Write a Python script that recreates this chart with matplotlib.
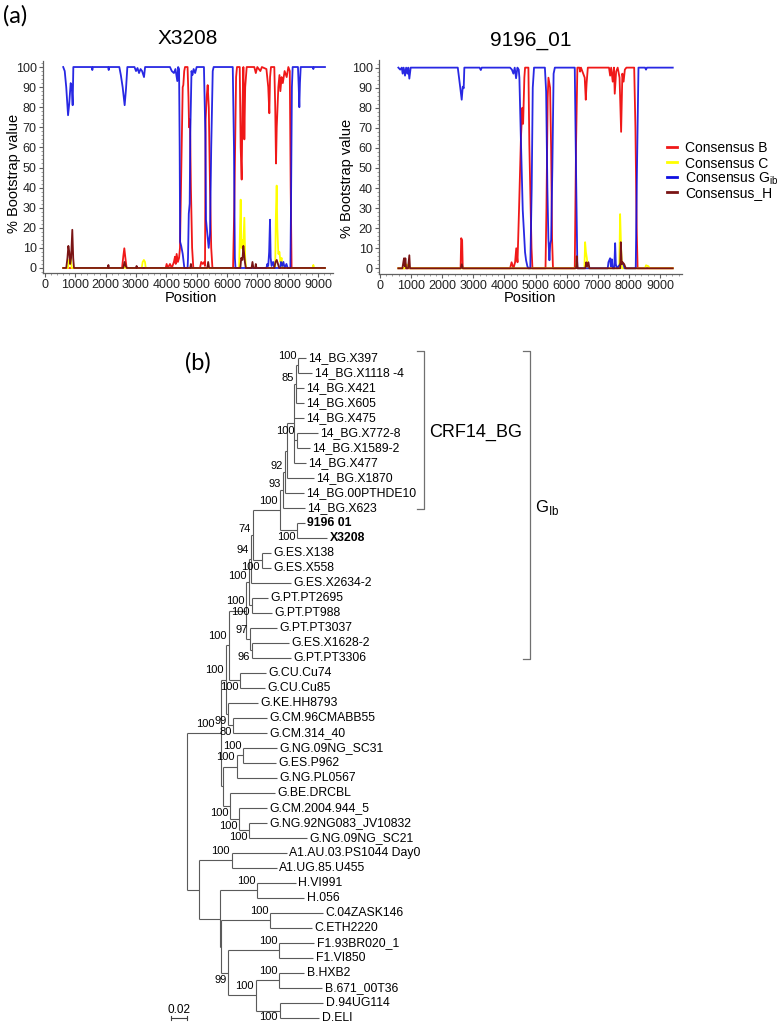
import matplotlib
matplotlib.use('Agg')
import matplotlib.pyplot as plt
from matplotlib.ticker import MultipleLocator

plt.rcParams['font.family'] = ['Liberation Sans', 'DejaVu Sans']

# ---------------- (a) bootscan values: (position, % bootstrap) ----------------
x3208_b = [(600, 0), (2540, 0), (2583, 6), (2615, 9.8), (2650, 5), (2690, 0), (3980, 0), (4010, 2), (4050, 0),
           (4121, 2), (4180, 0), (4250, 3), (4286, 5.6), (4310, 2), (4340, 7), (4380, 3), (4420, 5), (4450, 10),
           (4500, 55), (4540, 90), (4560, 91), (4590, 98), (4616, 100), (4700, 100), (4730, 85), (4750, 70),
           (4780, 74), (4810, 40), (4850, 10), (4890, 0), (5110, 0), (5150, 3), (5200, 2), (5250, 3), (5275, 1),
           (5297, 74), (5330, 85), (5363, 91), (5400, 80), (5440, 40), (5480, 10), (5520, 0), (6200, 0),
           (6240, 30), (6300, 95), (6330, 100), (6420, 100), (6451, 60), (6484, 44), (6510, 80), (6540, 100),
           (6560, 80), (6572, 64), (6600, 90), (6650, 100), (6900, 100), (6950, 97), (7000, 100), (7100, 98),
           (7150, 100), (7300, 99), (7360, 90), (7396, 77), (7420, 95), (7450, 100), (7560, 100), (7590, 80),
           (7616, 52), (7640, 70), (7693, 90), (7730, 96), (7760, 88), (7800, 95), (7840, 92), (7900, 98),
           (7968, 95), (8023, 100), (8070, 98), (8100, 40), (8130, 0), (9230, 0)]
x3208_c = [(600, 0), (760, 0), (790, 4), (820, 2), (850, 5), (880, 0), (2600, 0), (2630, 2), (2660, 0),
           (3190, 0), (3220, 3), (3260, 4), (3297, 3), (3320, 0), (6400, 0), (6430, 20), (6451, 34), (6475, 10),
           (6500, 14), (6530, 8), (6572, 25), (6600, 5), (6630, 0), (7590, 0), (7610, 25), (7638, 41), (7660, 20),
           (7693, 7), (7730, 8), (7760, 3), (7800, 5), (7830, 0), (8820, 0), (8847, 1.5), (8870, 0), (9230, 0)]
x3208_g = [(600, 100), (650, 98), (700, 90), (760, 76), (800, 82), (846, 92), (880, 91), (912, 81), (934, 100),
           (1540, 100), (1560, 98.5), (1580, 100), (2080, 100), (2100, 98.5), (2120, 100), (2450, 100),
           (2500, 96), (2560, 90), (2626, 81), (2670, 89), (2715, 100), (2950, 100), (3000, 98), (3050, 99.5),
           (3100, 97), (3150, 99), (3200, 98), (3264, 95), (3300, 100), (4120, 100), (4180, 98), (4250, 97),
           (4300, 99), (4362, 93), (4390, 100), (4420, 99), (4440, 60), (4455, 13), (4490, 11), (4540, 7),
           (4594, 0), (4700, 0), (4715, 5), (4740, 27), (4770, 32), (4790, 67), (4830, 98), (4860, 96),
           (4900, 99), (4950, 97), (5000, 100), (5240, 100), (5286, 67), (5308, 24), (5352, 17), (5396, 10),
           (5440, 17), (5480, 60), (5530, 98), (5560, 100), (6190, 100), (6230, 60), (6260, 5), (6280, 0),
           (7300, 0), (7330, 2), (7360, 1), (7390, 8), (7418, 24), (7440, 5), (7470, 1), (7520, 3), (7560, 0),
           (7750, 0), (7780, 3), (7820, 1), (7860, 3), (7900, 0), (7960, 2), (8000, 0), (8090, 0), (8110, 30),
           (8140, 90), (8165, 100), (8340, 100), (8365, 90), (8385, 80), (8405, 92), (8430, 100), (8830, 100),
           (8847, 99), (8865, 100), (9230, 100)]
x3208_h = [(600, 0), (700, 0), (740, 5), (770, 11), (800, 8), (830, 2), (860, 5), (900, 19), (930, 5), (956, 0),
           (2070, 0), (2090, 1.5), (2110, 0), (2580, 0), (2620, 3), (2660, 1), (2700, 0), (3000, 0), (3020, 1),
           (3040, 0), (4790, 0), (4810, 2), (4830, 0), (5350, 0), (5380, 3), (5410, 0), (6440, 0), (6470, 5),
           (6510, 4), (6539, 11), (6560, 8), (6590, 3), (6620, 0), (6810, 0), (6840, 3), (6870, 0), (6930, 0),
           (6950, 2), (6970, 0), (7560, 0), (7600, 3), (7640, 4), (7680, 2), (7720, 0), (9230, 0)]

s9196_b = [(590, 0), (2590, 0), (2610, 15), (2640, 14), (2660, 0), (4181, 0), (4230, 3), (4290, 0), (4342, 3),
           (4380, 10), (4420, 3), (4470, 30), (4530, 65), (4577, 80), (4600, 72), (4640, 95), (4663, 100),
           (4770, 100), (4800, 62), (4830, 39), (4870, 10), (4900, 0), (5320, 0), (5350, 30), (5390, 85),
           (5414, 95), (5467, 90), (5500, 60), (5530, 15), (5560, 0), (6260, 0), (6300, 60), (6344, 100),
           (6410, 100), (6432, 98), (6460, 100), (6580, 95), (6614, 84), (6640, 92), (6680, 100), (7360, 100),
           (7397, 96), (7430, 100), (7480, 93), (7520, 100), (7545, 87), (7590, 98), (7640, 100), (7700, 95),
           (7750, 68), (7790, 97), (7830, 93), (7870, 99), (7920, 100), (8170, 100), (8210, 70), (8250, 20),
           (8280, 0), (9410, 0)]
s9196_c = [(590, 0), (800, 0), (830, 2), (870, 1), (920, 2), (950, 0), (6290, 0), (6320, 3), (6350, 0),
           (6570, 0), (6593, 13), (6620, 8), (6650, 5), (6680, 0), (7690, 0), (7718, 27), (7750, 10), (7780, 0),
           (8520, 0), (8550, 1.5), (8630, 1), (8660, 0), (9410, 0)]
s9196_g = [(590, 100), (650, 99), (700, 100), (728, 97), (760, 100), (804, 96), (840, 100), (879, 97), (910, 100),
           (943, 94.5), (986, 100), (2500, 100), (2540, 95), (2580, 90), (2626, 84), (2660, 90.5), (2690, 89.7),
           (2711, 100), (3200, 100), (3240, 98.8), (3270, 100), (4181, 100), (4240, 99), (4288, 97), (4330, 100),
           (4374, 94.7), (4417, 100), (4460, 99), (4480, 95), (4524, 67), (4588, 29), (4631, 17), (4662, 8),
           (4695, 4), (4737, 1), (4770, 0), (4830, 0), (4876, 40), (4910, 90), (4951, 100), (5300, 100),
           (5340, 88), (5380, 40), (5412, 15), (5446, 4), (5470, 12), (5500, 14), (5540, 50), (5580, 97),
           (5620, 100), (6260, 100), (6300, 50), (6344, 0), (7320, 0), (7343, 3), (7396, 5), (7420, 1),
           (7450, 4.5), (7480, 0), (7530, 0), (7558, 12.5), (7580, 2), (7620, 0), (7718, 2), (7760, 3),
           (7826, 2), (7860, 0), (8220, 0), (8260, 50), (8308, 100), (8520, 100), (8550, 99), (8580, 100),
           (9410, 100)]
s9196_h = [(590, 0), (720, 0), (750, 3), (772, 5), (795, 1), (815, 5), (840, 0), (900, 0), (943, 6.5), (965, 0),
           (2600, 0), (2630, 2), (2660, 0), (6300, 0), (6325, 6), (6350, 0), (6600, 0), (6630, 3), (6660, 1),
           (6700, 3), (6730, 0), (7720, 0), (7740, 13), (7770, 2), (7800, 3), (7850, 2), (7900, 0), (9410, 0)]

series_names = ['Consensus B', 'Consensus C', 'Consensus G$_{\\mathregular{ib}}$', 'Consensus_H']
series_colors = ['#f01818', '#ffff00', '#1010e0', '#7a1414']

# ---------------- (b) neighbour-joining tree (newick pieces, bootstrap as node labels) ----------------
crf14_newick = ("((((((14_BG.X397:0.0090,14_BG.X1118 -4:0.0171)100:0.0029,14_BG.X421:0.0100,"
                "14_BG.X605:0.0094)85:0.0021,14_BG.X475:0.0115,(14_BG.X772-8:0.0266,14_BG.X1589-2:0.0166)100:0.0030,"
                "14_BG.X477:0.0146):0.0088,14_BG.X1870:0.0334):0.0035,14_BG.00PTHDE10:0.0244)92:0.0025,"
                "14_BG.X623:0.0275)93:0.0031")
gib_newick = ("((((((" + crf14_newick + ",(9196 01:0.0096,X3208:0.0371)100:0.0216)100:0.0341,"
              "(G.ES.X138:0.0116,G.ES.X558:0.0116)100:0.0113)74:0.0021,G.ES.X2634-2:0.0494)94:0.0031,"
              "(G.PT.PT2695:0.0204,G.PT.PT988:0.0254)100:0.0040)100:0.0031,"
              "(G.PT.PT3037:0.0344,(G.ES.X1628-2:0.0469,G.PT.PT3306:0.0488)96:0.0025)97:0.0044)100:0.0213")
g_other_newick = ("(G.CU.Cu74:0.0319,G.CU.Cu85:0.0306)100:0.0138)100:0.0044,"
                  "(G.KE.HH8793:0.0371,(G.CM.96CMABB55:0.0421,G.CM.314_40:0.0415)80:0.0063)99:0.0035)100:0.0060,"
                  "(((G.NG.09NG_SC31:0.0415,G.ES.P962:0.0409)100:0.0083,G.NG.PL0567:0.0504)100:0.0168,"
                  "(G.BE.DRCBL:0.0556,(G.CM.2004.944_5:0.0346,(G.NG.92NG083_JV10832:0.0221,"
                  "G.NG.09NG_SC21:0.0721)100:0.0125)100:0.0116)100:0.0084):0.0033)100:0.0418")
outgroup_newick = ("((A1.AU.03.PS1044 Day0:0.0685,A1.UG.85.U455:0.0560)100:0.0409,"
                   "((H.VI991:0.0478,H.056:0.0584)100:0.0466,((C.04ZASK146:0.0663,C.ETH2220:0.0525)100:0.0613,"
                   "((F1.93BR020_1:0.0434,F1.VI850:0.0421)100:0.0638,((B.HXB2:0.0309,B.671_00T36:0.0534)100:0.0291,"
                   "(D.94UG114:0.0538,D.ELI:0.0488)100:0.0300)100:0.0346)99:0.0091):0.0013):0.0263):0.0146")
tree_newick = "(((" + gib_newick + "," + g_other_newick + "," + outgroup_newick + ");"

bold_tips = ['9196 01', 'X3208']
# where MEGA printed a support value relative to its node, keyed by (first tip, last tip)
support_below = [('9196 01', 'X3208'), ('G.ES.X138', 'G.ES.X558'), ('G.PT.PT2695', 'G.PT.PT988'),
                 ('G.ES.X1628-2', 'G.PT.PT3306'), ('G.CU.Cu74', 'G.CU.Cu85'), ('G.KE.HH8793', 'G.CM.314_40'),
                 ('G.CM.96CMABB55', 'G.CM.314_40'), ('G.BE.DRCBL', 'G.NG.09NG_SC21'),
                 ('G.CM.2004.944_5', 'G.NG.09NG_SC21'), ('G.NG.92NG083_JV10832', 'G.NG.09NG_SC21'),
                 ('F1.93BR020_1', 'D.ELI'), ('D.94UG114', 'D.ELI')]
support_mid = [('14_BG.X397', 'G.ES.X558'), ('14_BG.X397', 'G.PT.PT988'), ('14_BG.X397', '14_BG.X605'),
               ('14_BG.X397', '14_BG.00PTHDE10'), ('14_BG.X397', '14_BG.X623')]
support_shift_left = [('14_BG.X397', 'G.NG.09NG_SC21')]
clade_brackets = [('CRF14_BG', '14_BG.X397', '14_BG.X623'),
                  ('G$_{\\mathregular{Ib}}$', '14_BG.X397', 'G.PT.PT3306')]


def parse_newick(s):
    pos = 0

    def node():
        nonlocal pos
        children = []
        if s[pos] == '(':
            pos += 1
            while True:
                children.append(node())
                if s[pos] == ',':
                    pos += 1
                    continue
                pos += 1
                break
        start = pos
        while s[pos] not in ':,);':
            pos += 1
        label = s[start:pos]
        length = 0.0
        if s[pos] == ':':
            pos += 1
            start = pos
            while s[pos] not in ',);':
                pos += 1
            length = float(s[start:pos])
        return {'label': label, 'length': length, 'children': children}

    return node()


tips = []


def layout(n, depth):
    n['x'] = depth + n['length']
    if not n['children']:
        n['y'] = len(tips)
        tips.append(n)
        n['first'] = n['last'] = n['label']
    else:
        for c in n['children']:
            layout(c, n['x'])
        n['y'] = (n['children'][0]['y'] + n['children'][-1]['y']) / 2
        n['first'] = n['children'][0]['first']
        n['last'] = n['children'][-1]['last']


root = parse_newick(tree_newick)
layout(root, 0.0)
tip_y = {t['label']: t['y'] for t in tips}

# ---------------- figure ----------------
W, H = 780, 1025
fig = plt.figure(figsize=(W / 100, H / 100), dpi=100)


def fig_axes(left, top, right, bottom):
    return fig.add_axes([left / W, 1 - bottom / H, (right - left) / W, (bottom - top) / H])


def bootscan(ax, data, xlim, ylim):
    for (pts, name, col) in zip(data, series_names, series_colors):
        xs, ys = zip(*pts)
        ax.plot(xs, ys, color=col, lw=1.3, label=name, solid_joinstyle='round',
                alpha=0.9 if col == series_colors[2] else 1)
    ax.set_xlim(*xlim)
    ax.set_ylim(*ylim)
    for s in ['top', 'right']:
        ax.spines[s].set_visible(False)
    for s in ['left', 'bottom']:
        ax.spines[s].set_color('#606060')
        ax.spines[s].set_linewidth(0.9)
    ax.set_xticks(range(0, 9001, 1000))
    ax.set_yticks(range(0, 101, 10))
    ax.xaxis.set_minor_locator(MultipleLocator(200))
    ax.yaxis.set_minor_locator(MultipleLocator(2))
    ax.tick_params(which='major', length=3, width=0.8, color='#606060', labelsize=9, pad=1.5,
                   labelcolor='#222222')
    ax.tick_params(which='minor', length=1.5, width=0.6, color='#909090')


ax1 = fig_axes(43, 61, 333, 273)
bootscan(ax1, [x3208_b, x3208_c, x3208_g, x3208_h], (-66, 9495), (-2.5, 103))
ax2 = fig_axes(379, 60, 682, 274)
bootscan(ax2, [s9196_b, s9196_c, s9196_g, s9196_h], (-32, 9707), (-2.85, 103.8))

fig.text(187.5 / W, 1 - 38 / H, 'X3208', fontsize=15, ha='center', va='center')
fig.text(530.5 / W, 1 - 40 / H, '9196_01', fontsize=15, ha='center', va='center')
fig.text(14 / W, 1 - 173 / H, '% Bootstrap value', fontsize=10.5, rotation=90, ha='center', va='center')
fig.text(347.5 / W, 1 - 178 / H, '% Bootstrap value', fontsize=10.5, rotation=90, ha='center', va='center')
fig.text(191 / W, 1 - 298 / H, 'Position', fontsize=10.5, ha='center', va='center')
fig.text(530 / W, 1 - 298 / H, 'Position', fontsize=10.5, ha='center', va='center')
fig.text(15 / W, 1 - 16 / H, '(a)', fontsize=17, ha='center', va='center', family=['Lato', 'DejaVu Sans'])
fig.text(198 / W, 1 - 363 / H, '(b)', fontsize=17, ha='center', va='center', family=['Lato', 'DejaVu Sans'])

# legend, one row per series, 15 px apart
for i, (name, col) in enumerate(zip(series_names, series_colors)):
    yrow = 1 - (147 + 15 * i) / H
    fig.add_artist(plt.Line2D([667 / W, 677 / W], [yrow, yrow], color=col, lw=2, transform=fig.transFigure))
    fig.text(685 / W, yrow, name, fontsize=10, ha='left', va='center_baseline')

# tree axes: 800 px per substitution/site, 15 px per tip
axt = fig_axes(150, 340, 600, 1025)
axt.set_xlim((150 - 187.3) / 800, (600 - 187.3) / 800)
axt.set_ylim((1025 - 357.7) / 15.007, (340 - 357.7) / 15.007)
axt.axis('off')

line_kw = dict(color='#5a5a5a', lw=0.8, solid_capstyle='butt')
unit = 1 / 800


def draw(n):
    if not n['children']:
        axt.text(n['x'] + 2.5 * unit, n['y'], n['label'], fontsize=8.8, va='center', ha='left',
                 fontweight='bold' if n['label'] in bold_tips else 'normal')
        return
    axt.plot([n['x'], n['x']], [n['children'][0]['y'], n['children'][-1]['y']], **line_kw)
    for c in n['children']:
        axt.plot([n['x'], c['x']], [c['y'], c['y']], **line_kw)
        draw(c)
    if n['label']:
        key = (n['first'], n['last'])
        dy = 0.45 if key in support_below else (-0.4 if key in support_mid else -0.63)
        dx = 6 if key in support_shift_left else 2
        axt.text(n['x'] - dx * unit, n['y'] + dy, n['label'], fontsize=8, ha='right', va='center')


draw(root)

# clade brackets
for (lab, first, last), bx in zip(clade_brackets, [424, 530]):
    x0 = (bx - 187.3) * unit
    y0, y1 = tip_y[first] - 0.45, tip_y[last] + 0.1
    axt.plot([x0 - 7 * unit, x0, x0, x0 - 7 * unit], [y0, y0, y1, y1], color='#707070', lw=0.9)
    axt.text(x0 + 5 * unit, (tip_y[first] + tip_y[last]) / 2, lab, fontsize=13 if lab == 'CRF14_BG' else 12,
             va='center', ha='left')

# scale bar
ybar = tip_y['D.ELI']
axt.plot([-0.021, -0.001], [ybar, ybar], color='#404040', lw=0.8)
for xb in (-0.021, -0.001):
    axt.plot([xb, xb], [ybar - 0.15, ybar + 0.15], color='#404040', lw=0.8)
axt.text(-0.011, ybar - 0.12, '0.02', fontsize=8.5, ha='center', va='bottom')

fig.savefig('out.png', dpi=100)
